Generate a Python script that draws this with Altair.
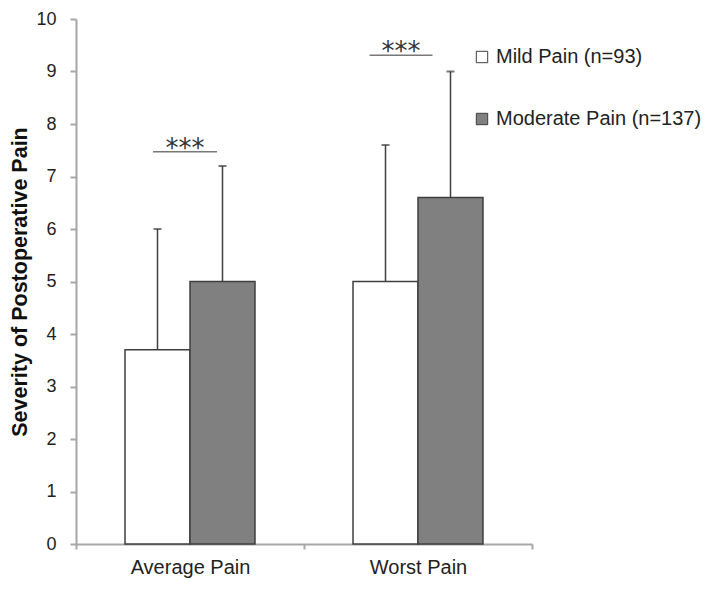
import altair as alt
import pandas as pd

categories = ["Average Pain", "Worst Pain"]
groups = ["Mild Pain (n=93)", "Moderate Pain (n=137)"]
means_mild = [3.7, 5.0]
means_moderate = [5.0, 6.6]
upper_mild = [6.0, 7.6]
upper_moderate = [7.2, 9.0]
sig_levels = [7.47, 9.31]
sig_labels = ["***", "***"]

rows = []
for i, c in enumerate(categories):
    rows.append({"cat": c, "grp": groups[0], "mean": means_mild[i], "upper": upper_mild[i]})
    rows.append({"cat": c, "grp": groups[1], "mean": means_moderate[i], "upper": upper_moderate[i]})
df = pd.DataFrame(rows)
sig = pd.DataFrame({"cat": categories, "y": sig_levels, "label": sig_labels})

FONT = "Liberation Sans"
DARK = "#3f3f3f"
AXIS = "#a6a6a6"

xenc = alt.X("cat:N", sort=categories,
             scale=alt.Scale(paddingInner=0, paddingOuter=0),
             axis=alt.Axis(title=None, labelAngle=0, tickBand="extent", grid=False,
                           labelFontSize=20, labelColor="#222222", labelFont=FONT,
                           labelPadding=8, tickSize=5, tickColor=AXIS, domainColor=AXIS,
                           domainWidth=2, tickWidth=2))
xoff = alt.XOffset("grp:N", sort=groups, scale=alt.Scale(paddingInner=0, paddingOuter=0.754))
yscale = alt.Scale(domain=[0, 10], nice=False)

bars = alt.Chart(df).mark_bar(stroke=DARK, strokeWidth=1.5).encode(
    x=xenc,
    xOffset=xoff,
    y=alt.Y("mean:Q", scale=yscale,
            axis=alt.Axis(title="Severity of Postoperative Pain", values=list(range(0, 11)),
                          grid=False, tickSize=6, tickColor=AXIS, domainColor=AXIS,
                          domainWidth=2, tickWidth=2,
                          labelFontSize=18, labelFont=FONT, labelColor="#222222",
                          labelPadding=14, titleFont=FONT, titleFontSize=21.5,
                          titleFontWeight="bold", titleColor="#111111", titlePadding=4)),
    fill=alt.Fill("grp:N", sort=groups,
                  scale=alt.Scale(domain=groups, range=["#ffffff", "#808080"]),
                  legend=alt.Legend(title=None, orient="none", legendX=396, legendY=28,
                                    symbolType="square", symbolSize=130,
                                    symbolStrokeColor=DARK, symbolStrokeWidth=1,
                                    labelFontSize=20, labelFont=FONT, labelColor="#222222",
                                    labelOffset=4, labelLimit=320, rowPadding=42)),
)

err = alt.Chart(df).mark_rule(color=DARK, strokeWidth=1.5).encode(
    x=alt.X("cat:N", sort=categories),
    xOffset=alt.XOffset("grp:N", sort=groups),
    y="mean:Q",
    y2="upper:Q",
)
caps = alt.Chart(df).mark_tick(color=DARK, thickness=2, size=8).encode(
    x=alt.X("cat:N", sort=categories),
    xOffset=alt.XOffset("grp:N", sort=groups),
    y="upper:Q",
)

sig1 = alt.Chart(sig).transform_filter(alt.datum.cat == categories[0])
sig2 = alt.Chart(sig).transform_filter(alt.datum.cat == categories[1])
line1 = sig1.mark_tick(color=DARK, thickness=1.5, size=64, xOffset=-5).encode(
    x=alt.X("cat:N", sort=categories), y="y:Q")
line2 = sig2.mark_tick(color=DARK, thickness=1.5, size=63, xOffset=-17).encode(
    x=alt.X("cat:N", sort=categories), y="y:Q")
txt1 = sig1.mark_text(font="DejaVu Sans", fontSize=26, color="#333333", dy=5, xOffset=-5,
                      baseline="alphabetic").encode(
    x=alt.X("cat:N", sort=categories), y="y:Q", text="label:N")
txt2 = sig2.mark_text(font="DejaVu Sans", fontSize=26, color="#333333", dy=5, xOffset=-17,
                      baseline="alphabetic").encode(
    x=alt.X("cat:N", sort=categories), y="y:Q", text="label:N")

chart = alt.layer(bars, err, caps, line1, line2, txt1, txt2).properties(
    width=456, height=525,
    autosize=alt.AutoSizeParams(type="none"),
    padding={"left": 68, "top": 11, "right": 174, "bottom": 40},
    view=alt.ViewBackground(stroke="transparent", strokeWidth=0),
).configure_view(stroke="transparent", strokeWidth=0).configure_axis(grid=False).configure(
    background="white")

chart.save("out.html", embed_options={"renderer": "svg", "actions": False})
